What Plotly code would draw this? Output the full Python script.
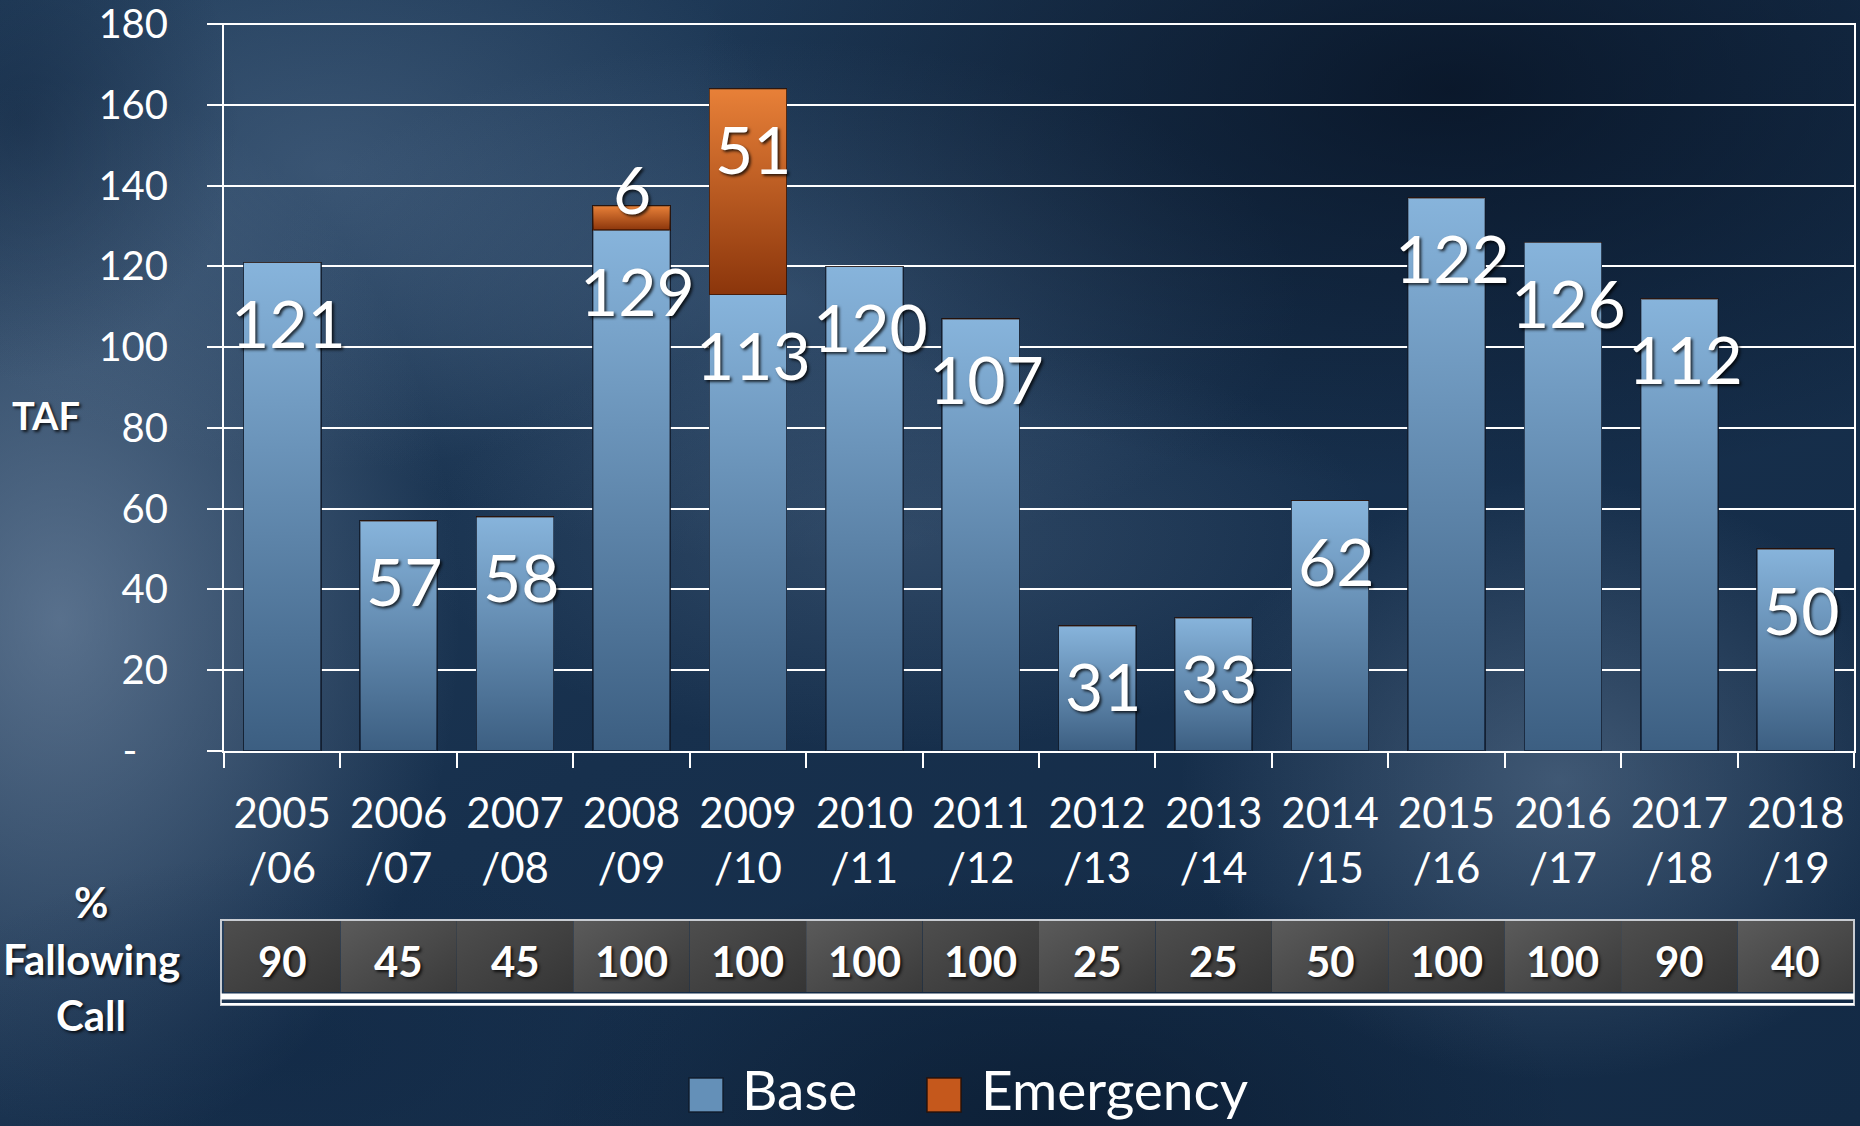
import base64
import plotly.graph_objects as go

# ---------------- data ----------------
categories = ["2005<br>/06", "2006<br>/07", "2007<br>/08", "2008<br>/09", "2009<br>/10",
              "2010<br>/11", "2011<br>/12", "2012<br>/13", "2013<br>/14", "2014<br>/15",
              "2015<br>/16", "2016<br>/17", "2017<br>/18", "2018<br>/19"]
base_values = [121, 57, 58, 129, 113, 120, 107, 31, 33, 62, 137, 126, 112, 50]
base_labels = ["121", "57", "58", "129", "113", "120", "107", "31", "33", "62", "122", "126", "112", "50"]
emergency_values = [0, 0, 0, 6, 51, 0, 0, 0, 0, 0, 0, 0, 0, 0]
fallowing_pct = [90, 45, 45, 100, 100, 100, 100, 25, 25, 50, 100, 100, 90, 40]
y_tickvals = [0, 20, 40, 60, 80, 100, 120, 140, 160, 180]
y_ticktext = ["-\u00a0\u00a0\u00a0", "20", "40", "60", "80", "100", "120", "140", "160", "180"]

# ---------------- geometry helpers ----------------
FW, FH = 1860, 1126
ML, MR, MT, MB = 221, 6, 23, 5
PW, PH = FW - ML - MR, FH - MT - MB
BARGAP = 0.337


def px(X):
    return (X - ML) / PW


def py(Y):
    return (FH - MB - Y) / PH


def svg_uri(svg):
    return "data:image/svg+xml;base64," + base64.b64encode(svg.encode()).decode()


def grad_svg(c0, o0, c1, o1, x2="0", y2="1"):
    return svg_uri(
        '<svg xmlns="http://www.w3.org/2000/svg" width="100" height="100" viewBox="0 0 100 100" '
        'preserveAspectRatio="none"><defs><linearGradient id="g" x1="0" y1="0" '
        f'x2="{x2}" y2="{y2}"><stop offset="0" stop-color="{c0}" stop-opacity="{o0}"/>'
        f'<stop offset="1" stop-color="{c1}" stop-opacity="{o1}"/></linearGradient></defs>'
        '<rect width="100" height="100" fill="url(#g)"/></svg>')


FONT = "Lato, 'Open Sans', sans-serif"
SHADOW = "2px 2px 3px rgba(0,0,0,0.75)"
BASE_COLOR = "#6490b8"
EMER_COLOR = "#c5581c"

# ---------------- background (svg) ----------------
blobs = [
    (60, 620, 400, 540, "#8aa0bb", 0.55),
    (330, 170, 460, 300, "#6d88a8", 0.35),
    (780, 300, 520, 260, "#6985a5", 0.30),
    (900, 540, 480, 210, "#7690ae", 0.25),
    (1560, 780, 380, 300, "#8099b5", 0.40),
    (1450, 90, 760, 400, "#040d1c", 0.70),
    (1050, 1126, 520, 260, "#061528", 0.55),
    (20, 120, 220, 260, "#0c1f38", 0.45),
    (300, 1050, 400, 200, "#0e2440", 0.35),
]
defs, ells = [], []
for i, (cx, cy, rx, ry, col, op) in enumerate(blobs):
    defs.append(f'<radialGradient id="r{i}"><stop offset="0" stop-color="{col}" stop-opacity="{op}"/>'
                f'<stop offset="1" stop-color="{col}" stop-opacity="0"/></radialGradient>')
    ells.append(f'<ellipse cx="{cx}" cy="{cy}" rx="{rx}" ry="{ry}" fill="url(#r{i})"/>')
bg_svg = (f'<svg xmlns="http://www.w3.org/2000/svg" width="{FW}" height="{FH}" viewBox="0 0 {FW} {FH}" '
          'preserveAspectRatio="none">'
          '<defs><linearGradient id="g0" x1="0" y1="0" x2="1" y2="1">'
          '<stop offset="0" stop-color="#223e5c"/><stop offset="0.5" stop-color="#17304d"/>'
          '<stop offset="1" stop-color="#132a45"/></linearGradient>' + "".join(defs) + '</defs>'
          f'<rect width="{FW}" height="{FH}" fill="url(#g0)"/>' + "".join(ells) + '</svg>')

images = [dict(source=svg_uri(bg_svg), xref="paper", yref="paper", x=px(0), y=py(0),
               sizex=FW / PW, sizey=FH / PH, xanchor="left", yanchor="top",
               sizing="stretch", layer="below")]

# gradient sheen over each bar segment (placed via the data axes)
base_sheen = grad_svg("#aad8ff", 0.5, "#142d4b", 0.5)
emer_sheen = grad_svg("#ff9b4b", 0.6, "#641e00", 0.6)
bar_w = 1 - BARGAP
for c, b, e in zip(categories, base_values, emergency_values):
    images.append(dict(source=base_sheen, xref="x", yref="y", x=c, y=b, sizex=bar_w, sizey=b,
                       xanchor="center", yanchor="top", sizing="stretch", layer="above"))
    if e > 0:
        images.append(dict(source=emer_sheen, xref="x", yref="y", x=c, y=b + e, sizex=bar_w, sizey=e,
                           xanchor="center", yanchor="top", sizing="stretch", layer="above"))

# table cells (gradient fills, aligned with the category axis)
cell_even = grad_svg("#4e4e4e", 1, "#353535", 1, x2="1", y2="1")
cell_odd = grad_svg("#5b5b5b", 1, "#3a3a3a", 1, x2="1", y2="1")
for i, c in enumerate(categories):
    images.append(dict(source=cell_even if i % 2 == 0 else cell_odd, xref="x", yref="paper",
                       x=c, y=py(920), sizex=1, sizey=py(920) - py(992),
                       xanchor="center", yanchor="top", sizing="stretch", layer="below"))

# ---------------- traces ----------------
fig = go.Figure()
fig.add_trace(go.Bar(
    x=categories, y=base_values, name="Base",
    marker=dict(color=BASE_COLOR, line=dict(color="rgba(15,25,40,0.85)", width=1.5)),
    hoverinfo="x+y", showlegend=False,
))
fig.add_trace(go.Bar(
    x=categories, y=emergency_values, name="Emergency",
    marker=dict(color=EMER_COLOR, line=dict(color="rgba(40,15,5,0.9)", width=1.5)),
    hoverinfo="x+y", showlegend=False,
))

# ---------------- annotations ----------------
ann = []
for c, v, lab in zip(categories, base_values, base_labels):
    ann.append(dict(x=c, y=v, xref="x", yref="y", text=lab, showarrow=False,
                    yanchor="middle", xanchor="center", yshift=-60, xshift=6,
                    font=dict(family=FONT, size=66, color="white", shadow=SHADOW)))
for c, b, e in zip(categories, base_values, emergency_values):
    if e > 0:
        small = e < 15
        ann.append(dict(x=c, y=b + e, xref="x", yref="y", text=str(e), showarrow=False,
                        yanchor="middle", xanchor="center",
                        yshift=17 if small else -60, xshift=0 if small else 6,
                        font=dict(family=FONT, size=66, color="white", shadow=SHADOW)))

# fallowing-call row values
for c, p in zip(categories, fallowing_pct):
    ann.append(dict(x=c, y=py(961), xref="x", yref="paper", text=f"<b>{p}</b>", showarrow=False,
                    xanchor="center", yanchor="middle",
                    font=dict(family=FONT, size=42, color="white", shadow=SHADOW)))

ann.append(dict(x=px(46), y=py(415), xref="paper", yref="paper", text="<b>TAF</b>",
                showarrow=False, xanchor="center", yanchor="middle",
                font=dict(family=FONT, size=38, color="white", shadow=SHADOW)))
for txt, Y in [("%", 902), ("Fallowing", 959), ("Call", 1015)]:
    ann.append(dict(x=px(91), y=py(Y), xref="paper", yref="paper", text=f"<b>{txt}</b>",
                    showarrow=False, xanchor="center", yanchor="middle",
                    font=dict(family=FONT, size=42, color="white", shadow=SHADOW)))

# custom legend
ann.append(dict(x=px(740), y=py(1089), xref="paper", yref="paper", text="Base",
                showarrow=False, xanchor="left", yanchor="middle",
                font=dict(family=FONT, size=55, color="white")))
ann.append(dict(x=px(979), y=py(1089), xref="paper", yref="paper", text="Emergency",
                showarrow=False, xanchor="left", yanchor="middle",
                font=dict(family=FONT, size=55, color="white")))

shapes = [
    dict(type="rect", xref="paper", yref="paper", x0=px(689), x1=px(723), y0=py(1112), y1=py(1078),
         fillcolor=BASE_COLOR, line=dict(color="rgba(15,25,40,0.9)", width=1.5)),
    dict(type="rect", xref="paper", yref="paper", x0=px(927), x1=px(961), y0=py(1112), y1=py(1078),
         fillcolor=EMER_COLOR, line=dict(color="rgba(40,15,5,0.9)", width=1.5)),
    # table frame
    dict(type="rect", xref="paper", yref="paper", x0=px(221), x1=px(1854), y0=py(1005), y1=py(920),
         line=dict(color="#c8ccd2", width=2), fillcolor="rgba(0,0,0,0)"),
    dict(type="line", xref="paper", yref="paper", x0=px(221), x1=px(1854), y0=py(996.5), y1=py(996.5),
         line=dict(color="white", width=6)),
    dict(type="line", xref="paper", yref="paper", x0=px(221), x1=px(1854), y0=py(1004), y1=py(1004),
         line=dict(color="white", width=2)),
]

fig.update_layout(
    width=FW, height=FH,
    margin=dict(l=ML, r=MR, t=MT, b=MB, pad=0, autoexpand=False),
    paper_bgcolor="#17304d", plot_bgcolor="rgba(0,0,0,0)",
    barmode="stack", bargap=BARGAP,
    font=dict(family=FONT, color="white"),
    showlegend=False,
    images=images,
    annotations=ann,
    shapes=shapes,
    xaxis=dict(
        domain=[px(224), 1], type="category", tickson="boundaries",
        ticks="outside", ticklen=15, tickwidth=2, tickcolor="white",
        showline=True, linecolor="white", linewidth=2, showgrid=False,
        tickfont=dict(family=FONT, size=42, color="white"),
        ticklabelstandoff=25, fixedrange=True, automargin=False,
    ),
    yaxis=dict(
        domain=[py(751), 1], range=[0, 180.3],
        tickvals=y_tickvals, ticktext=y_ticktext,
        ticks="outside", ticklen=15, tickwidth=2, tickcolor="white",
        showline=True, linecolor="white", linewidth=2, mirror=True,
        showgrid=True, gridcolor="white", gridwidth=2, zeroline=False,
        tickfont=dict(family=FONT, size=40, color="white"),
        ticklabelstandoff=31, fixedrange=True, automargin=False,
        ticklabeloverflow="allow",
    ),
)

fig.write_html("out.html", config={"displayModeBar": False},
               post_script="document.body.style.margin='0';document.body.style.overflow='hidden';")
